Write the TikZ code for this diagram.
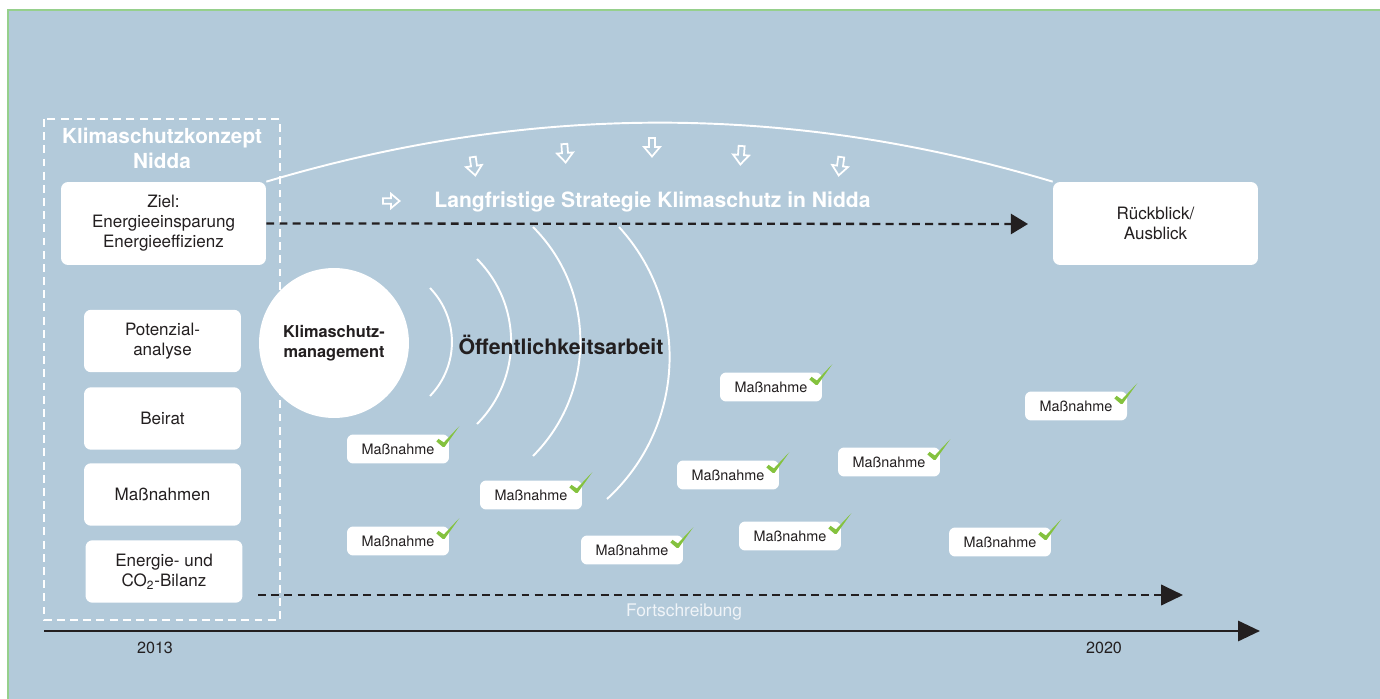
\documentclass[tikz,border=0pt]{standalone}
\usepackage{fontspec}
\setmainfont{TeX Gyre Heros}
\usetikzlibrary{arrows.meta}
\definecolor{bgblue}{RGB}{179,202,218}
\definecolor{txtdark}{RGB}{35,31,32}
\definecolor{checkgreen}{RGB}{132,194,62}
\definecolor{framegreen}{RGB}{150,208,140}

\begin{document}
\begin{tikzpicture}[x=0.02cm,y=-0.02cm,
   hollow arrow/.pic={\draw[white, line width=1pt, line join=miter] (-3,-9) -- (3,-9) -- (3,0) -- (8,0) -- (0,9.5) -- (-8,0) -- (-3,0) -- cycle;}]
   \useasboundingbox (0,0) rectangle (1380,699);
   \fill[white] (0,0) rectangle (1380,699);
   \filldraw[fill=bgblue, draw=framegreen, line width=0.6pt] (8,10) rectangle (1390,710);
   \tikzstyle{box}=[fill=white, rounded corners=4pt, text=txtdark, align=center, inner sep=0pt, font=\fontsize{9.7}{11.4}\selectfont]
   \tikzstyle{side}=[box, minimum width=3.14cm, minimum height=1.25cm]
   \tikzstyle{tag}=[fill=white, rounded corners=3.5pt, text=txtdark, inner sep=0pt, minimum width=2.04cm, minimum height=0.58cm, font=\fontsize{8.2}{10}\selectfont]
   \tikzstyle{dashline}=[txtdark, line width=1.3pt, dash pattern=on 4.5pt off 3pt, -{Triangle[length=9.7pt,width=11.4pt]}]
   \tikzstyle{wave}=[white, line width=1.1pt]
   % concept frame
   \draw[white, line width=1.1pt, dash pattern=on 4.5pt off 3pt] (44,119) rectangle (280,620);
   \node[white, align=center, font=\bfseries\fontsize{11.8}{14.2}\selectfont] (konzept) at (162,148) {Klimaschutzkonzept\\Nidda};
   \node[box, minimum width=4.1cm, minimum height=1.66cm] (ziel) at (163.5,223.5) {Ziel:\\Energieeinsparung\\Energieeffizienz};
   \foreach \i/\x/\y/\txt in {pot/162.5/341/{Potenzial-\\analyse}, beirat/162.5/418.5/{Beirat}, mass/162.5/494.5/{Maßnahmen}, bilanz/164/571.5/{Energie- und\\CO\textsubscript{2}-Bilanz}} {
       \node[side] (\i) at (\x,\y) {\txt};
   }
   % management and waves
   \node[circle, fill=white, minimum size=3cm, inner sep=0pt, align=center, text=txtdark, font=\bfseries\fontsize{9.3}{11.4}\selectfont] (mgmt) at (334,343) {Klimaschutz-\\management};
   \draw[wave] (430,288) to[bend left=44] (430,396);
   \draw[wave] (477,259) to[bend left=45] (477,424);
   \draw[wave] (533,227) to[bend left=45] (533,456);
   \draw[wave] (619,227) to[bend left=45] (607,499);
   \node[text=txtdark, font=\bfseries\fontsize{12.1}{14}\selectfont] (oeff) at (561,345) {Öffentlichkeitsarbeit};
   % strategy
   \node[box, minimum width=4.1cm, minimum height=1.66cm] (rueck) at (1155.5,223.5) {Rückblick/\\Ausblick};
   \draw[wave] (ziel.north east) .. controls (530,103) and (790,103) .. (rueck.north west);
   \foreach \x/\y/\a in {474/166/8, 565/153/4, 652/147/0, 741/155/-4, 840/166/-8} {
       \pic[rotate=\a] at (\x,\y) {hollow arrow};
   }
   \pic[rotate=90, scale=0.9] at (391,201) {hollow arrow};
   \node[white, font=\bfseries\fontsize{12}{14}\selectfont] (strat) at (652.5,202) {Langfristige Strategie Klimaschutz in Nidda};
   \coordinate (zielend) at (1028,224);
   \draw[dashline] (ziel.east) -- (zielend);
   % measures
   \foreach \i/\x/\y in {1/398/449, 2/398/541, 3/531/495, 4/632/550, 5/771/387, 6/728/475, 7/790/536, 8/889/462, 9/1000/542, 10/1076/406} {
       \node[tag] (m\i) at (\x,\y) {Maßnahme};
       \fill[checkgreen, shift={(m\i.north east)}] (-13,7.3) -- (-10.8,4.7) -- (-5.5,8.3) -- (10,-8) -- (-4.8,12.8) -- (-6.6,12.8) -- cycle;
   }
   % time line
   \coordinate (fstart) at (258,595);
   \coordinate (fend) at (1183,595);
   \draw[dashline, -{Triangle[length=12.5pt,width=11.7pt]}] (fstart) -- (fend);
   \node[text=white!80!bgblue, font=\fontsize{9.9}{12}\selectfont] (fort) at (684,612) {Fortschreibung};
   \coordinate (tstart) at (44,631);
   \coordinate (tend) at (1260,631);
   \draw[txtdark, line width=1.7pt, -{Triangle[length=12.5pt,width=11.4pt]}] (tstart) -- (tend);
   \node[text=txtdark, font=\fontsize{9.2}{11}\selectfont] (y2013) at (155,648) {2013};
   \node[text=txtdark, font=\fontsize{9.2}{11}\selectfont] (y2020) at (1104,648) {2020};
\end{tikzpicture}
\end{document}
